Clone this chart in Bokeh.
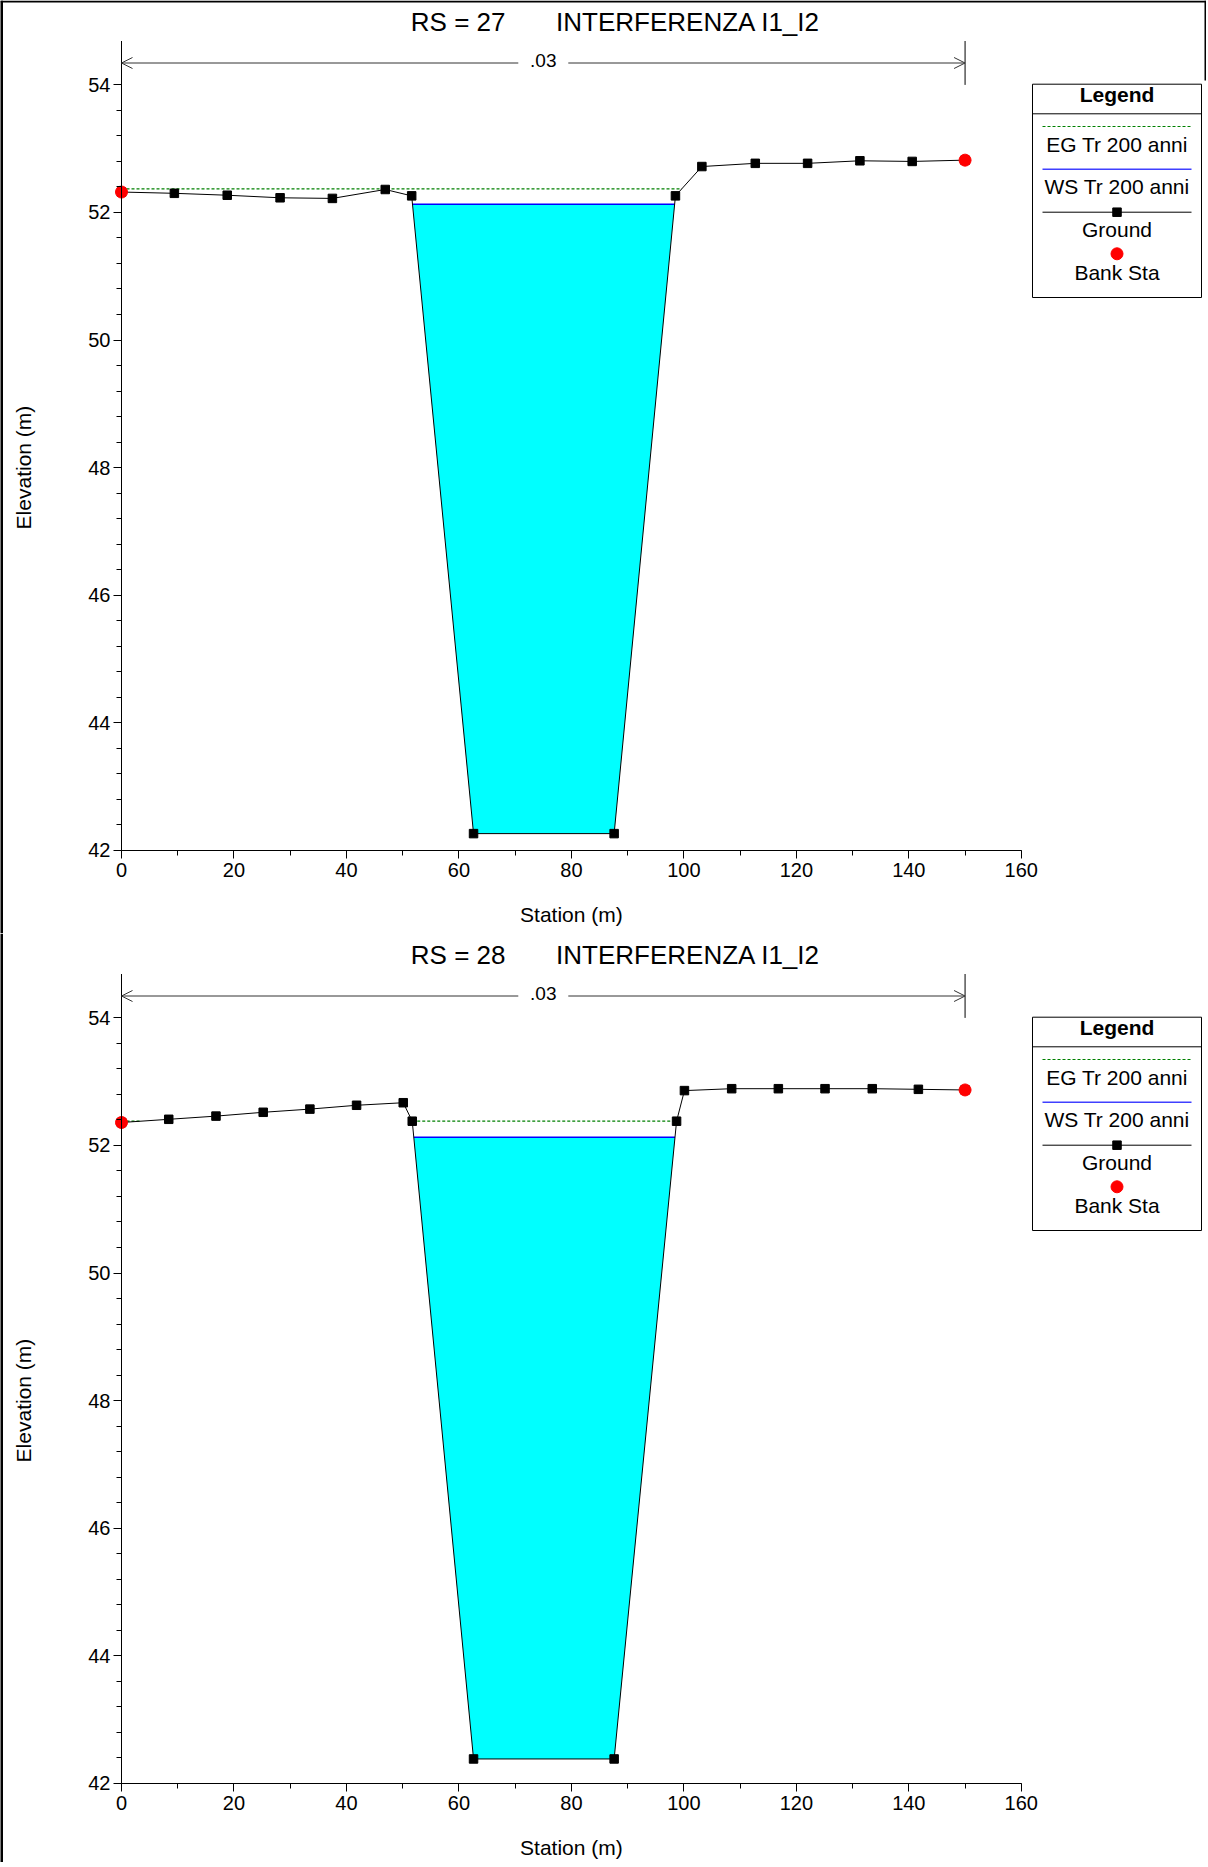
import math
from bokeh.plotting import figure
from bokeh.models import Range1d, FixedTicker, Arrow, OpenHead
from bokeh.layouts import column
from bokeh.embed import file_html
from bokeh.resources import INLINE
from bokeh.core.properties import value

# ---------------- data ----------------
TITLE_1 = "RS = 27" + "\u00a0" * 7 + "INTERFERENZA I1_I2"
TITLE_2 = "RS = 28" + "\u00a0" * 7 + "INTERFERENZA I1_I2"

# RS = 27 cross-section (station m, elevation m)
STA_27 = [0, 9.4, 18.8, 28.2, 37.5, 46.9, 51.6, 62.6, 87.6, 98.5,
          103.2, 112.7, 122.0, 131.3, 140.6, 150.0]
ELEV_27 = [52.32, 52.30, 52.27, 52.23, 52.22, 52.36, 52.26, 42.26, 42.26, 52.26,
           52.72, 52.77, 52.77, 52.81, 52.80, 52.82]
BANK_27 = [0, 150.0]
WS_27 = 52.13
EG_27 = 52.37

# RS = 28 cross-section
STA_28 = [0, 8.4, 16.8, 25.2, 33.5, 41.8, 50.1, 51.7, 62.6, 87.6, 98.7,
          100.1, 108.5, 116.8, 125.1, 133.5, 141.7, 150.0]
ELEV_28 = [52.36, 52.41, 52.46, 52.52, 52.57, 52.63, 52.67, 52.38, 42.38, 42.38, 52.38,
           52.86, 52.89, 52.89, 52.89, 52.89, 52.88, 52.87]
BANK_28 = [0, 150.0]
WS_28 = 52.13
EG_28 = 52.38

# Manning's n
N_STATIONS = [0, 150.0]
N_VALUES = [".03"]

X_TICKS = [0, 20, 40, 60, 80, 100, 120, 140, 160]
Y_TICKS = [42, 44, 46, 48, 50, 52, 54]
X_LABEL = "Station (m)"
Y_LABEL = "Elevation (m)"
LEGEND_TITLE = "Legend"
LEGEND_LABELS = ["EG Tr 200 anni", "WS Tr 200 anni", "Ground", "Bank Sta"]

# ---------------- layout constants ----------------
FONT = "Liberation Sans"
FIG_W = 1206
AXIS_PX = 121.0            # page x of station 0
X_PX = 899.8 / 160.0       # px per metre (station)
Y_PX = 765.3 / 12.0        # px per metre (elevation)
BASE_PX = 849.7            # px from figure top of elevation 42
X_START = -AXIS_PX / X_PX
X_END = (FIG_W - AXIS_PX) / X_PX


def text_y(center, size):
    # alphabetic baseline position (px from figure top) for a visual centre
    return center + 0.358 * size - 8


def crossing(x0, z0, x1, z1, lev):
    t = (lev - z0) / (z1 - z0)
    return x0 + t * (x1 - x0)


def wet_intervals(x, z, lev):
    segs = []
    cur = None
    for i in range(len(x)):
        if z[i] <= lev:
            if cur is None:
                cur = [x[0]] if i == 0 else [crossing(x[i - 1], z[i - 1], x[i], z[i], lev)]
        else:
            if cur is not None:
                cur.append(crossing(x[i - 1], z[i - 1], x[i], z[i], lev))
                segs.append(cur)
                cur = None
    if cur is not None:
        cur.append(x[-1])
        segs.append(cur)
    return segs


def water_polygon(x, z, ws):
    imin = min(range(len(z)), key=lambda i: z[i])
    for a, b in wet_intervals(x, z, ws):
        if a <= x[imin] <= b:
            inner = [i for i in range(len(x)) if a < x[i] < b]
            xs = [a] + [x[i] for i in inner] + [b]
            ys = [ws] + [z[i] for i in inner] + [ws]
            return xs, ys, a, b
    return [], [], 0, 0


def interp(x, z, s):
    for i in range(len(x) - 1):
        if x[i] <= s <= x[i + 1]:
            return z[i] + (z[i + 1] - z[i]) * (s - x[i]) / (x[i + 1] - x[i])
    return z[-1]


def style_axis(ax, ticks, minor, bounds, loc, standoff):
    ax.ticker = FixedTicker(ticks=ticks, minor_ticks=minor)
    ax.bounds = bounds
    ax.fixed_location = loc
    ax.axis_label = None
    ax.major_label_text_font = FONT
    ax.major_label_text_font_size = "20px"
    ax.major_label_text_color = "black"
    ax.major_label_standoff = standoff
    ax.major_tick_out = 8
    ax.major_tick_in = 0
    ax.minor_tick_out = 5
    ax.minor_tick_in = 0
    ax.axis_line_color = "black"
    ax.major_tick_line_color = "black"
    ax.minor_tick_line_color = "black"


def make_panel(title, sta, elev, banks, ws, eg, fig_h, first):
    y_top = 42 + BASE_PX / Y_PX
    y_bot = 42 - (fig_h - BASE_PX) / Y_PX

    def dx(page_x):
        return (page_x - AXIS_PX) / X_PX

    def dy(rel_y):
        return y_top - rel_y / Y_PX

    p = figure(width=FIG_W, height=fig_h, x_range=Range1d(X_START, X_END),
               y_range=Range1d(y_bot, y_top), output_backend="svg",
               toolbar_location=None, title=None, min_border=0,
               min_border_left=0, min_border_right=0, min_border_top=0, min_border_bottom=0)
    p.outline_line_color = None
    p.xgrid.visible = False
    p.ygrid.visible = False
    p.background_fill_color = "white"
    p.border_fill_color = "white"

    x_minor = [t for t in range(0, 161, 10)]
    y_minor = [round(42 + 0.4 * k, 2) for k in range(31)]
    style_axis(p.xaxis[0], X_TICKS, x_minor, (0, 160), 42, 5)
    style_axis(p.yaxis[0], Y_TICKS, y_minor, (42, 54), 0, 3)

    # window border of the original picture
    p.segment(x0=[dx(1)], x1=[dx(1)], y0=[y_top], y1=[y_bot], line_color="black", line_width=3)
    if first:
        p.segment(x0=[X_START], x1=[X_END], y0=[dy(1)], y1=[dy(1)], line_color="black",
                  line_width=2)
        p.segment(x0=[dx(1205)], x1=[dx(1205)], y0=[y_top], y1=[dy(80)], line_color="black",
                  line_width=2)

    # water
    wx, wy, a, b = water_polygon(sta, elev, ws)
    p.patch(wx, wy, fill_color="#00ffff", line_color=None)
    p.line([a, b], [ws, ws], line_color="#0000ff", line_width=1.5)

    # energy grade
    segs = wet_intervals(sta, elev, eg)
    p.multi_line([s for s in segs], [[eg, eg] for _ in segs], line_color="#008000",
                 line_width=1.2, line_dash="3 2")

    # ground
    p.line(sta, elev, line_color="black", line_width=1)
    p.scatter(sta, elev, marker="square", size=8.5, fill_color="black", line_color="black")

    # bank stations
    p.scatter(banks, [interp(sta, elev, s) for s in banks], marker="circle", size=12,
              fill_color="#ff0000", line_color="#ff0000")

    # Manning's n bracket
    top = dy(40.5)
    yb = dy(62.5)
    p.segment(x0=N_STATIONS, x1=N_STATIONS, y0=[54] * len(N_STATIONS),
              y1=[top] * len(N_STATIONS), line_color="black", line_width=1)
    gap = 25 / X_PX
    for k, nv in enumerate(N_VALUES):
        s0, s1 = N_STATIONS[k], N_STATIONS[k + 1]
        c = (s0 + s1) / 2
        for xs, xe in ((c - gap, s0), (c + gap, s1)):
            p.add_layout(Arrow(end=OpenHead(size=11, line_color="#333333", line_width=1),
                               x_start=xs, y_start=yb, x_end=xe, y_end=yb,
                               line_color="#333333", line_width=1))
        p.text([c], [dy(text_y(61.5, 19))], text=[nv], text_font=value(FONT),
               text_font_size=value("19px"), text_color="black", text_align="center",
               text_baseline="alphabetic")

    # title
    p.text([dx(410.3)], [dy(text_y(20.5, 26))], text=[title], text_font=value(FONT),
           text_font_size=value("26px"), text_color="black", text_align="left",
           text_baseline="alphabetic")

    # axis labels
    p.text([80], [dy(text_y(914, 21))], text=[X_LABEL], text_font=value(FONT),
           text_font_size=value("21px"), text_color="black", text_align="center",
           text_baseline="alphabetic")
    p.text([dx(22.5)], [48], text=[Y_LABEL], angle=math.pi / 2, text_font=value(FONT),
           text_font_size=value("21px"), text_color="black", text_align="center",
           text_baseline="alphabetic")

    # legend
    L, R = 1032, 1201
    cxp = (L + R) / 2
    p.quad(left=[dx(L)], right=[dx(R)], top=[dy(83.7)], bottom=[dy(297)],
           fill_color="white", line_color="black", line_width=1)
    p.segment(x0=[dx(L)], x1=[dx(R)], y0=[dy(113.3)], y1=[dy(113.3)], line_color="black")
    p.text([dx(cxp)], [dy(text_y(94.5, 21))], text=[LEGEND_TITLE], text_font=value(FONT),
           text_font_size=value("21px"), text_font_style="bold", text_color="black",
           text_align="center", text_baseline="alphabetic")
    lx = [dx(1042), dx(1191)]
    p.line(lx, [dy(126)] * 2, line_color="#008000", line_width=1.2, line_dash="3 2")
    p.line(lx, [dy(168.7)] * 2, line_color="#4040ff", line_width=1.5)
    p.line(lx, [dy(211.7)] * 2, line_color="black", line_width=1)
    p.scatter([dx(cxp)], [dy(211.7)], marker="square", size=8.5, fill_color="black",
              line_color="black")
    p.scatter([dx(cxp)], [dy(253.3)], marker="circle", size=12, fill_color="#ff0000",
              line_color="#ff0000")
    centers = [144.5, 186, 229.5, 272.3]
    p.text([dx(cxp)] * 4, [dy(text_y(c, 21)) for c in centers], text=LEGEND_LABELS,
           text_font=value(FONT), text_font_size=value("21px"), text_color="black",
           text_align="center", text_baseline="alphabetic")
    return p


p1 = make_panel(TITLE_1, STA_27, ELEV_27, BANK_27, WS_27, EG_27, 933, True)
p2 = make_panel(TITLE_2, STA_28, ELEV_28, BANK_28, WS_28, EG_28, 929, False)

layout = column(p1, p2)
open("out.html", "w").write(file_html(layout, INLINE))
